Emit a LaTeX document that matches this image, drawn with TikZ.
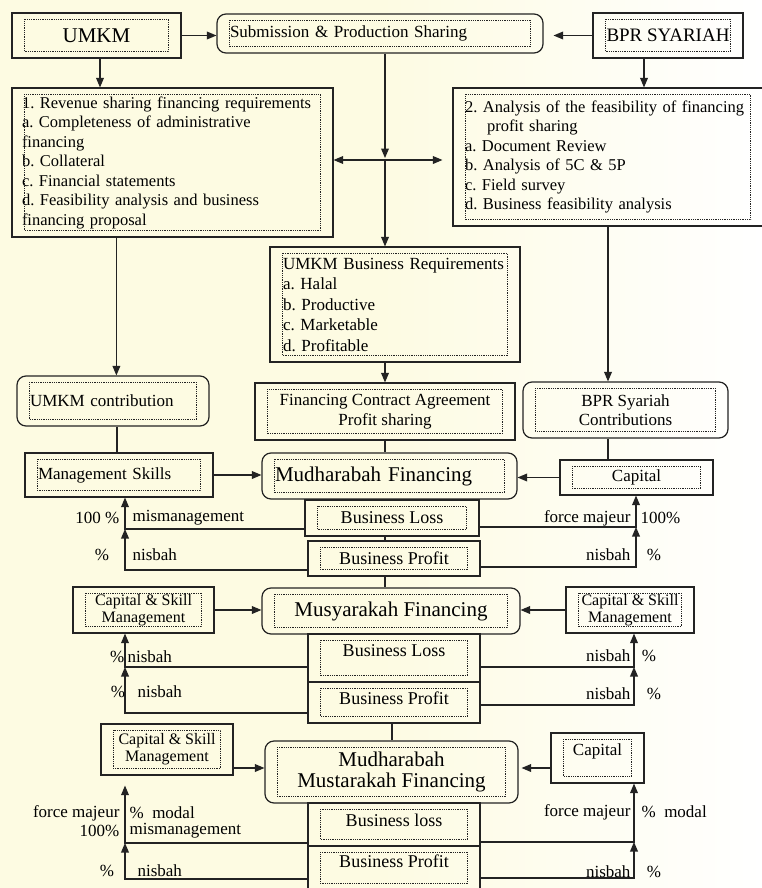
\documentclass[tikz,border=0pt]{standalone}
\usepackage{fontspec}
\setmainfont{Liberation Serif}
\usetikzlibrary{arrows}
\frenchspacing

\definecolor{paper}{RGB}{253,251,226}
\definecolor{ink}{RGB}{35,35,35}

\begin{document}
\begin{tikzpicture}[x=1pt,y=-1pt,>=triangle 45,line width=1.2pt,draw=ink,
  box/.style={draw=ink,rectangle,inner sep=0pt,font=\fontsize{17}{19.5}\selectfont},
  round box/.style={box,rounded corners=9pt},
  left box/.style={box,inner xsep=13pt,align=left},
  list/.style={font=\fontsize{16.5}{19.5}\selectfont},
  big/.style={font=\fontsize{21}{21}\selectfont},
  biz/.style={font=\fontsize{18}{20}\selectfont},
  small/.style={font=\fontsize{16}{17}\selectfont},
  lbl/.style={inner sep=1pt,font=\fontsize{17}{19}\selectfont},
  dots/.style={densely dotted,line width=0.8pt}]
  \shade[left color=paper,right color=white,middle color=paper] (0,0) rectangle (762,888);
  \useasboundingbox (0,0) rectangle (762,888);

  % top row
  \node[box,big,minimum width=169pt,minimum height=45pt] (1) at (96.5,35.5) {UMKM};
  \node[round box,left box,minimum width=326pt,minimum height=39pt,text width=300pt] (2) at (380,33.5) {Submission \& Production Sharing};
  \node[box,font=\fontsize{19}{20}\selectfont,minimum width=150pt,minimum height=45pt] (3) at (668,35.5) {BPR SYARIAH};

  % requirements
  \node[left box,list,inner xsep=10pt,minimum width=321pt,minimum height=149pt,text width=301pt] (4) at (172.5,162.5) {1. Revenue sharing financing requirements\\a. Completeness of administrative\\financing\\b. Collateral\\c. Financial statements\\d. Feasibility analysis and business\\financing proposal};
  \node[left box,list,inner xsep=12pt,minimum width=310pt,minimum height=138pt,text width=286pt] (5) at (608,157) {2. Analysis of the feasibility of financing\\\hspace*{22pt}profit sharing\\a. Document Review\\b. Analysis of 5C \& 5P\\c. Field survey\\d. Business feasibility analysis};
  \node[left box,minimum width=250pt,minimum height=115pt,text width=224pt,font=\fontsize{17}{20.5}\selectfont] (6) at (395,304.5) {UMKM Business Requirements\\a. Halal\\b. Productive\\c. Marketable\\d. Profitable};
  \node[box,align=center,minimum width=260pt,minimum height=57pt] (7) at (385,411.5) {Financing Contract Agreement\\Profit sharing};
  \node[round box,left box,minimum width=192pt,minimum height=50pt,text width=166pt] (8) at (113,401) {UMKM contribution};
  \node[round box,align=center,minimum width=205pt,minimum height=56pt] (9) at (625.5,410) {BPR Syariah\\Contributions};

  % mudharabah
  \node[left box,minimum width=188pt,minimum height=44pt,text width=162pt] (10) at (119,475) {Management Skills};
  \node[round box,left box,big,minimum width=255pt,minimum height=46pt,text width=229pt] (11) at (389.5,476) {Mudharabah Financing};
  \node[box,minimum width=153pt,minimum height=35pt] (12) at (636.5,477.5) {Capital};
  \node[box,biz,minimum width=174pt,minimum height=36pt] (13) at (392,518) {Business Loss};
  \node[box,biz,minimum width=172pt,minimum height=35pt] (14) at (394,558.5) {Business Profit};

  % musyarakah
  \node[box,small,align=center,minimum width=141pt,minimum height=46pt] (15) at (143.5,610) {Capital \& Skill\\Management};
  \node[round box,big,minimum width=258pt,minimum height=46pt] (16) at (391,611) {Musyarakah Financing};
  \node[box,small,align=center,minimum width=128pt,minimum height=46pt] (17) at (630,610) {Capital \& Skill\\Management};
  \node[box,biz,text depth=14pt,minimum width=172pt,minimum height=48pt] (18) at (394,658) {Business Loss};
  \node[box,biz,text depth=9pt,minimum width=172pt,minimum height=41pt] (19) at (394,702.5) {Business Profit};

  % mudharabah mustarakah
  \node[box,small,align=center,minimum width=132pt,minimum height=51pt] (20) at (167,749.5) {Capital \& Skill\\Management};
  \node[round box,big,align=center,minimum width=253pt,minimum height=62pt] (21) at (391.5,772) {Mudharabah\\Mustarakah Financing};
  \node[box,text depth=16pt,minimum width=93pt,minimum height=50pt] (22) at (597.5,758) {Capital};
  \node[box,biz,text depth=9pt,minimum width=172pt,minimum height=43pt] (23) at (394,824.5) {Business loss};
  \node[box,biz,text depth=14pt,minimum width=172pt,minimum height=44pt] (24) at (394,868) {Business Profit};

  % dotted frames
  \foreach \n in {1,...,24}
    \draw[dots] ([shift={(13pt,-7pt)}]\n.north west) rectangle ([shift={(-13pt,7pt)}]\n.south east);

  % flow at the top
  \coordinate (hub) at (385,160);
  \draw[->] (1.east) -- (1.east -| 2.west);
  \draw[->,shorten >=10pt] (3.west) -- (3.west -| 2.east);
  \draw[->] ([xshift=3.5pt]1.south) -- ([xshift=3.5pt]1.south |- 4.north);
  \draw[->] ([xshift=-24pt]3.south) -- ([xshift=-24pt]3.south |- 5.north);
  \draw[->] (2.south -| hub) -- ([yshift=2pt]hub);
  \draw[->] (hub) -- (hub |- 6.north);
  \draw[<->,shorten >=10pt] (hub -| 4.east) -- (hub -| 5.west);
  \draw[->] (6.south -| hub) -- (hub |- 7.north);
  \draw[->] ([xshift=105pt]4.south west) -- ([xshift=105pt]4.south west |- 8.north);
  \draw[->] (5.south) -- (5.south |- 9.north);
  \draw ([xshift=4pt]8.south) -- ([xshift=4pt]8.south |- 10.north);
  \draw (5.south |- 9.south) -- (5.south |- 12.north);
  \draw (7.south) -- (7.south |- 11.north);

  % mudharabah flows
  \draw[->] (10.east) -- (10.east -| 11.west);
  \draw[->] (12.west) -- (12.west -| 11.east);
  \draw (13.south -| hub) -- (hub |- 14.north);
  \draw (14.south -| hub) -- (hub |- 16.north);
  \coordinate (a1) at (125,529);
  \coordinate (b1) at (636,527);
  \draw[->] (a1 -| 13.west) -- (a1) -- (a1 |- 10.south);
  \draw[->] ([yshift=-11.5pt]14.west) -| (a1);
  \draw[->] (b1 -| 13.east) -- (b1) -- (b1 |- 12.south);
  \draw[->] ([yshift=-8.5pt]14.east) -| (b1);

  % musyarakah flows
  \draw[->] (15.east) -- (15.east -| 16.west);
  \draw[->] (17.west) -- (17.west -| 16.east);
  \draw ([xshift=-2pt]19.south) -- ([xshift=-2pt]19.south |- 21.north);
  \coordinate (a2) at (125,667);
  \coordinate (b2) at (634,667);
  \draw[->] (a2 -| 18.west) -- (a2) -- (a2 |- 15.south);
  \draw[->] ([yshift=-10.5pt]19.west) -| (a2);
  \draw[->] (b2 -| 18.east) -- (b2) -- (b2 |- 17.south);
  \draw[->] ([yshift=-2.5pt]19.east) -| (b2);

  % mudharabah mustarakah flows
  \draw[->] ([yshift=-18.5pt]20.east) -- ([yshift=-18.5pt]20.east -| 21.west);
  \draw[->,shorten >=3pt] ([yshift=-10pt]22.west) -- ([yshift=-10pt]22.west -| 21.east);
  \coordinate (a3) at (125,843);
  \coordinate (b3) at (634,842);
  \draw[->,shorten >=10pt] (a3 -| 23.west) -- (a3) -- (a3 |- 20.south);
  \draw[->] ([yshift=-11pt]24.west) -| (a3);
  \draw[->] (b3 -| 23.east) -- (b3) -- (b3 |- 22.south);
  \draw[->] ([yshift=-10pt]24.east) -| (b3);

  % labels
  \node[lbl,anchor=east] (t1) at (121,518) {100 \%};
  \node[lbl,anchor=west] (t2) at (131,518) {mismanagement};
  \node[lbl] (t3) at (102,555) {\%};
  \node[lbl,anchor=west] (t4) at (131,555) {nisbah};
  \node[lbl,anchor=east] (t5) at (632,518) {force majeur};
  \node[lbl,anchor=west] (t6) at (639,518) {100\%};
  \node[lbl,anchor=east] (t7) at (632,555) {nisbah};
  \node[lbl] (t8) at (654,555) {\%};
  \node[lbl,anchor=east] (t9) at (126,657) {\%};
  \node[lbl,anchor=west] (t10) at (126,657) {nisbah};
  \node[lbl] (t11) at (118,692) {\%};
  \node[lbl,anchor=west] (t12) at (136,692) {nisbah};
  \node[lbl,anchor=east] (t13) at (632,656) {nisbah};
  \node[lbl] (t14) at (649,656) {\%};
  \node[lbl,anchor=east] (t15) at (632,694) {nisbah};
  \node[lbl] (t16) at (654,694) {\%};
  \node[lbl,anchor=east] (t17) at (121,813) {force majeur};
  \node[lbl,anchor=west] (t18) at (128,813) {\% \ modal};
  \node[lbl,anchor=east] (t19) at (121,831) {100\%};
  \node[lbl,anchor=west] (t20) at (128,831) {mismanagement};
  \node[lbl] (t21) at (107,871) {\%};
  \node[lbl,anchor=west] (t22) at (136,871) {nisbah};
  \node[lbl,anchor=east] (t23) at (632,812) {force majeur};
  \node[lbl,anchor=west] (t24) at (640,812) {\% \ modal};
  \node[lbl,anchor=east] (t25) at (632,872) {nisbah};
  \node[lbl] (t26) at (654,872) {\%};
\end{tikzpicture}
\end{document}
